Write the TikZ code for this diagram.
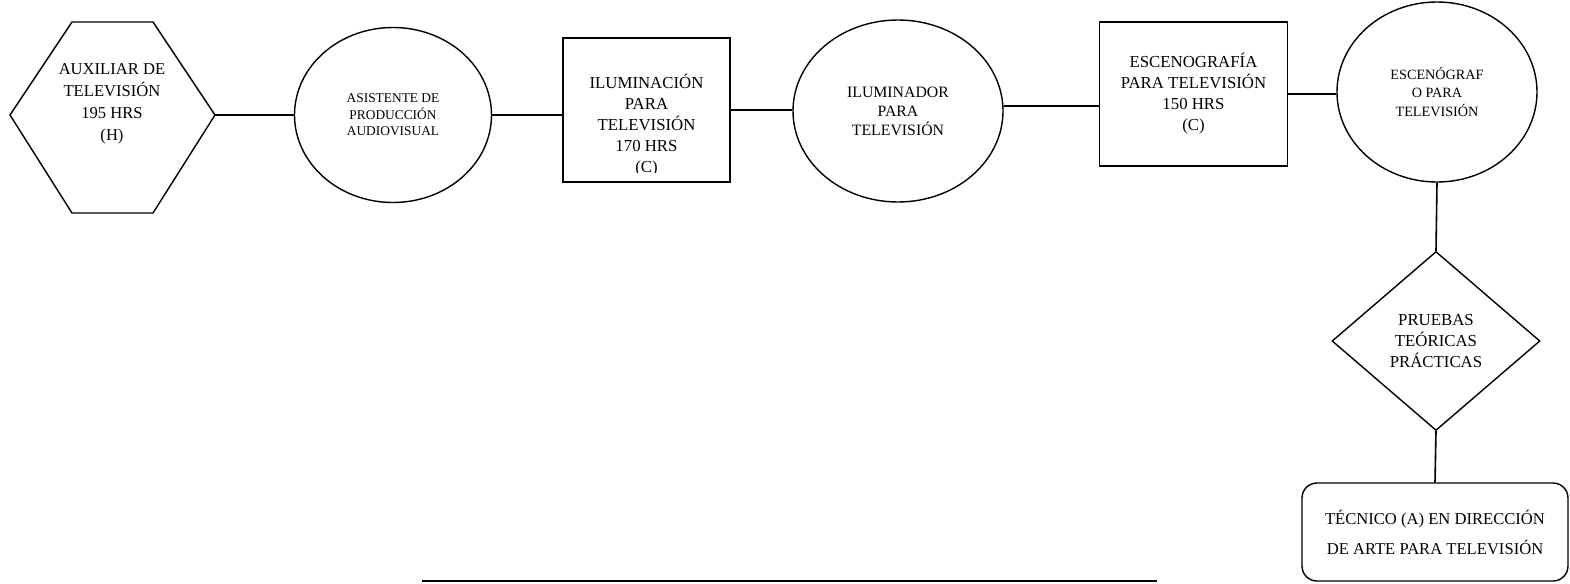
\documentclass[tikz,border=0pt]{standalone}
\usepackage{fontspec}
\setmainfont{Liberation Serif}
\usetikzlibrary{shapes.geometric}
\newcommand{\letra}[2]{\fontsize{#1}{#2}\selectfont}
\tikzset{
  caja/.style={draw, line width=0.7pt, align=center, inner sep=0pt},
  ovalo/.style={caja, ellipse},
  rombo/.style={caja, diamond},
  texto/.style={align=center, inner sep=0pt},
  linea/.style={line width=0.8pt}
}
\begin{document}
\begin{tikzpicture}[x=0.5pt,y=-0.5pt]
\useasboundingbox (0,0) rectangle (1570,584);
% hexagono de inicio
\draw[line width=0.7pt] (10,115) -- (72,22) -- (153,22) -- (215,115) -- (153,213) -- (72,213) -- cycle;
\node[texto, font=\letra{8.3}{11}] (aux) at (112,104) {AUXILIAR DE\\TELEVISIÓN\\195 HRS\\(H)};
\coordinate (auxder) at (215,115);
% fila de arriba
\node[ovalo, minimum width=98.5pt, minimum height=87.5pt, font=\letra{6.7}{8.3}] (asis) at (393,115) {ASISTENTE DE\\PRODUCCIÓN\\AUDIOVISUAL};
\node[caja, minimum width=83.5pt, minimum height=72pt] (ilum) at (646.5,110) {};
\begin{scope}
\clip (563,38) rectangle (730,172); % el (C) queda cortado
\node[texto, font=\letra{8.4}{10.5}] (ilumtxt) at (646.5,125) {ILUMINACIÓN\\PARA\\TELEVISIÓN\\170 HRS\\(C)};
\end{scope}
\node[ovalo, minimum width=105pt, minimum height=91pt, font=\letra{7.9}{9.5}] (ilumdor) at (898,111) {ILUMINADOR\\PARA\\TELEVISIÓN};
\node[caja, minimum width=94pt, minimum height=72pt, font=\letra{8.4}{10.5}] (esc) at (1193.5,94) {ESCENOGRAFÍA\\PARA TELEVISIÓN\\150 HRS\\(C)};
\node[ovalo, minimum width=100pt, minimum height=90pt, font=\letra{7.1}{9.2}] (escdor) at (1437,92) {ESCENÓGRAF\\O PARA\\TELEVISIÓN};
% bajada
\node[rombo, minimum width=104pt, minimum height=89.5pt, font=\letra{8.4}{10.3}] (pruebas) at (1436,341) {PRUEBAS\\TEÓRICAS\\PRÁCTICAS};
\node[caja, rounded corners=7.5pt, minimum width=133pt, minimum height=49pt, font=\letra{8.3}{15}] (tecnico) at (1435,532) {TÉCNICO (A) EN DIRECCIÓN\\DE ARTE PARA TELEVISIÓN};
% conectores
\draw[linea] (auxder) -- (asis.west);
\draw[linea] (asis.east) -- (asis.east -| ilum.west);
\draw[linea] (ilum.east) -- (ilum.east -| ilumdor.west);
\draw[linea] ([yshift=2.5pt]ilumdor.east) -- ([yshift=2.5pt]ilumdor.east -| esc.west);
\draw[linea] (esc.east) -- (esc.east -| escdor.west);
\draw[linea] (escdor.south) -- (pruebas.north);
\draw[linea] (pruebas.south) -- (tecnico.north);
% linea suelta de abajo
\coordinate (pieizq) at (422,581);
\coordinate (pieder) at (1157,581);
\draw[linea] (pieizq) -- (pieder);
\end{tikzpicture}
\end{document}
